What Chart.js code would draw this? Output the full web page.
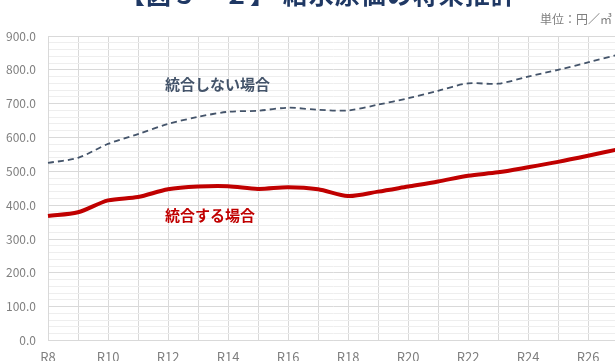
<!DOCTYPE html>
<html>
<head>
<meta charset="utf-8">
<script src="https://cdn.jsdelivr.net/npm/chart.js@4.4.0/dist/chart.umd.min.js"></script>
<style>
  html, body { margin: 0; padding: 0; background: #fff; overflow: hidden; width: 615px; height: 361px; }
  #wrap { position: absolute; left: 0; top: 0; width: 640px; height: 372px; }
  #title { position: absolute; left: 120px; top: -25px; font: bold 25px "Noto Sans CJK JP", sans-serif; color: #1f3864; white-space: nowrap; letter-spacing: 1px; }
  #unit { position: absolute; right: 3px; top: 10px; font: 12px "Noto Sans CJK JP", sans-serif; color: #7f7f7f; }
</style>
</head>
<body>
<div id="wrap"><canvas id="lineChart" width="640" height="372"></canvas></div>
<div id="title">【図５－２】 給水原価の将来推計</div>
<div id="unit">単位：円／㎥</div>
<script>
// years on the x axis
var years = ['R8', 'R9', 'R10', 'R11', 'R12', 'R13', 'R14', 'R15', 'R16', 'R17',
             'R18', 'R19', 'R20', 'R21', 'R22', 'R23', 'R24', 'R25', 'R26', 'R27'];
// cost per m3 without merging
var separate = [525, 540, 581, 610, 640, 661, 676, 679, 688, 682,
                680, 697, 716, 738, 760, 759, 780, 800, 822, 845];
// cost per m3 with merging
var merged = [368, 379, 414, 424, 447, 455, 456, 448, 453, 447,
              427, 440, 455, 470, 487, 497, 512, 528, 546, 565];
var seriesNames = ['統合しない場合', '統合する場合'];

// text labels drawn next to each line
var lineLabels = {
    id: 'lineLabels',
    afterDatasetsDraw: function (chart) {
        var ctx = chart.ctx;
        var x = chart.scales.x, y = chart.scales.y;
        ctx.save();
        ctx.font = 'bold 15px "Noto Sans CJK JP"';
        ctx.textAlign = 'left';
        ctx.textBaseline = 'middle';
        ctx.fillStyle = '#44546a';
        ctx.fillText(seriesNames[0], x.getPixelForValue(4) - 3, y.getPixelForValue(757));
        ctx.fillStyle = '#c00000';
        ctx.fillText(seriesNames[1], x.getPixelForValue(4) - 3, y.getPixelForValue(370));
        ctx.restore();
    }
};

var ctx = document.getElementById('lineChart');
var lineChart = new Chart(ctx, {
    type: 'line',
    data: {
        labels: years,
        datasets: [
            {
                label: seriesNames[0],
                data: separate,
                borderColor: '#44546a',
                borderWidth: 1.8,
                borderDash: [6, 4],
                pointRadius: 0,
                tension: 0.3
            },
            {
                label: seriesNames[1],
                data: merged,
                borderColor: '#c00000',
                borderWidth: 4,
                pointRadius: 0,
                tension: 0.3
            }
        ]
    },
    options: {
        responsive: false,
        animation: false,
        events: [],
        layout: { padding: { left: 0, right: 22, top: 36, bottom: 0 } },
        plugins: { legend: { display: false }, tooltip: { enabled: false } },
        scales: {
            x: {
                offset: false,
                grid: { color: '#d9d9d9', drawTicks: false },
                border: { color: '#d9d9d9' },
                ticks: {
                    autoSkip: false,
                    maxRotation: 0,
                    padding: 9,
                    color: '#7f7f7f',
                    font: { family: '"Noto Sans CJK JP"', size: 13 },
                    callback: function (v, i) { return i % 2 === 0 ? years[i] : ''; }
                },
                afterFit: function (scale) { scale.height = 31.5; }
            },
            y: {
                min: 0,
                max: 900,
                grid: {
                    drawTicks: false,
                    color: function (c) { return c.tick.value % 100 === 0 ? '#d9d9d9' : '#eeeeee'; }
                },
                border: { color: '#d9d9d9' },
                ticks: {
                    stepSize: 20,
                    autoSkip: false,
                    padding: 12,
                    color: '#7f7f7f',
                    font: { family: '"Noto Sans CJK JP"', size: 12 },
                    callback: function (v) { return v % 100 === 0 ? v.toFixed(1) : ''; }
                },
                afterFit: function (scale) { scale.width = 48; }
            }
        }
    },
    plugins: [lineLabels]
});
</script>
</body>
</html>
